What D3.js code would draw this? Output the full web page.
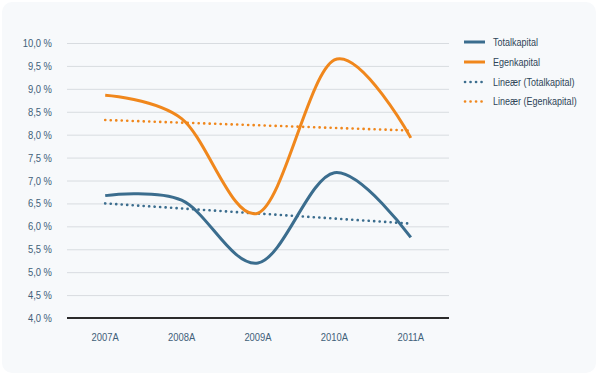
<!DOCTYPE html>
<html>
<head>
<meta charset="utf-8">
<script src="https://cdn.jsdelivr.net/npm/d3@7"></script>
<style>
  body { margin: 0; background: #ffffff; }
  svg { display: block; }
</style>
</head>
<body>
<svg id="chart" width="600" height="379"></svg>
<script>
// data
const years = ['2007A', '2008A', '2009A', '2010A', '2011A'];
const totalkapital = [6.67, 6.57, 5.20, 7.17, 5.76];
const egenkapital = [8.86, 8.35, 6.29, 9.63, 7.93];
// linear trend lines: value at first and last category
const trendYears = ['2007A', '2011A'];
const trendTotal = [6.50, 6.06];
const trendEgen = [8.32, 8.09];
const yTicks = [4, 4.5, 5, 5.5, 6, 6.5, 7, 7.5, 8, 8.5, 9, 9.5, 10];
const legendLabels = ['Totalkapital', 'Egenkapital', 'Lineær (Totalkapital)', 'Lineær (Egenkapital)'];

const blue = '#3b6d8e';
const orange = '#f0871c';
const font = '"Liberation Sans", Arial, sans-serif';
const squeeze = 0.82; // narrow look of the original font

const svg = d3.select('#chart');

// card background
svg.append('rect')
  .attr('x', 2).attr('y', 2)
  .attr('width', 594).attr('height', 371)
  .attr('rx', 10)
  .attr('fill', '#f7f9fb');

const plot = { left: 67, right: 449, top: 43, bottom: 318 };

const x = d3.scalePoint()
  .domain(years)
  .range([plot.left, plot.right])
  .padding(0.5);

const y = d3.scaleLinear()
  .domain([4, 10])
  .range([plot.bottom, plot.top]);

// gridlines
svg.append('g')
  .attr('transform', `translate(${plot.left},0)`)
  .call(d3.axisLeft(y).tickValues(yTicks).tickSize(-(plot.right - plot.left)).tickFormat(''))
  .call(g => g.select('.domain').remove())
  .call(g => g.selectAll('line').attr('stroke', '#d8dce0').attr('stroke-width', 1));

// y labels
svg.append('g')
  .selectAll('text')
  .data(yTicks)
  .enter()
  .append('text')
  .attr('transform', d => `translate(52,${y(d)}) scale(${squeeze},1)`)
  .attr('dy', '0.35em')
  .attr('text-anchor', 'end')
  .attr('font-family', font)
  .attr('font-size', '11.5px')
  .attr('fill', '#3f6079')
  .text(d => d.toFixed(1).replace('.', ',') + ' %');

// x axis line
svg.append('line')
  .attr('x1', plot.left).attr('x2', plot.right)
  .attr('y1', y(4)).attr('y2', y(4))
  .attr('stroke', '#2b2b2b')
  .attr('stroke-width', 2);

// x labels
svg.append('g')
  .selectAll('text')
  .data(years)
  .enter()
  .append('text')
  .attr('transform', d => `translate(${x(d)},341) scale(${squeeze},1)`)
  .attr('text-anchor', 'middle')
  .attr('font-family', font)
  .attr('font-size', '11.5px')
  .attr('fill', '#3f6079')
  .text(d => d);

const smooth = d3.line()
  .x((d, i) => x(years[i]))
  .y(d => y(d))
  .curve(d3.curveCardinal.tension(0));

const straight = d3.line()
  .x((d, i) => x(trendYears[i]))
  .y(d => y(d));

// trend lines (dotted)
[[trendTotal, blue], [trendEgen, orange]].forEach(([vals, col]) => {
  svg.append('path')
    .attr('d', straight(vals))
    .attr('fill', 'none')
    .attr('stroke', col)
    .attr('stroke-width', 2.6)
    .attr('stroke-linecap', 'round')
    .attr('stroke-dasharray', '0.1 5.4');
});

// series lines
[[totalkapital, blue], [egenkapital, orange]].forEach(([vals, col]) => {
  svg.append('path')
    .attr('d', smooth(vals))
    .attr('fill', 'none')
    .attr('stroke', col)
    .attr('stroke-width', 3);
});

// legend
const legend = svg.append('g');
const legendStyles = [
  { color: blue, dash: null },
  { color: orange, dash: null },
  { color: blue, dash: '0.1 5.4' },
  { color: orange, dash: '0.1 5.4' }
];
const legendY = [42, 62, 82, 101.5];

legendLabels.forEach((label, i) => {
  const st = legendStyles[i];
  legend.append('line')
    .attr('x1', st.dash ? 465 : 464).attr('x2', 485)
    .attr('y1', legendY[i]).attr('y2', legendY[i])
    .attr('stroke', st.color)
    .attr('stroke-width', st.dash ? 2.6 : 3)
    .attr('stroke-linecap', st.dash ? 'round' : 'butt')
    .attr('stroke-dasharray', st.dash);
  legend.append('text')
    .attr('transform', `translate(493,${legendY[i]}) scale(${squeeze},1)`)
    .attr('dy', '0.35em')
    .attr('font-family', font)
    .attr('font-size', '11px')
    .attr('fill', '#2e4457')
    .text(label);
});
</script>
</body>
</html>
